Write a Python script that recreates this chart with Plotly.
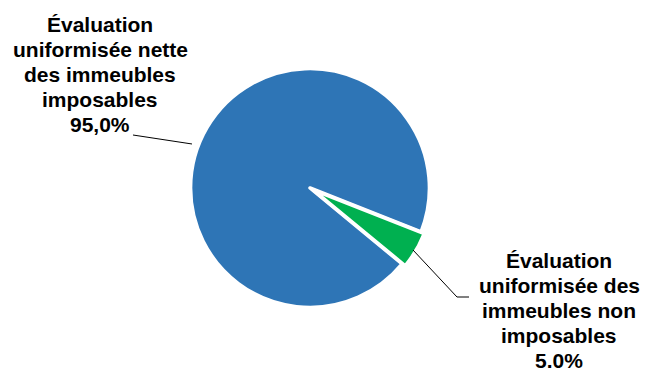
import plotly.graph_objects as go

labels = ["Évaluation uniformisée nette des immeubles imposables",
          "Évaluation uniformisée des immeubles non imposables"]
values = [95.0, 5.0]
colors = ["#2E75B6", "#00B050"]
pulls = [0, 0.03]

label_lines = [
    ["Évaluation", "uniformisée nette", "des immeubles", "imposables", "95,0%"],
    ["Évaluation", "uniformisée des", "immeubles non", "imposables", "5.0%"],
]
W, H = 646, 368

cx, cy, half = 310, 188, 123
fig = go.Figure(go.Pie(
    labels=labels, values=values, sort=False, direction="clockwise",
    rotation=129.5, pull=pulls, textinfo="none", hoverinfo="label+percent",
    marker=dict(colors=colors, line=dict(color="white", width=3.5)),
    domain=dict(x=[(cx - half) / W, (cx + half) / W],
                y=[1 - (cy + half) / H, 1 - (cy - half) / H]),
    showlegend=False,
))

# label blocks: (center x px, first baseline px)
blocks = [(100, 32), (559, 268)]
spacing = 25
ann = []
for (bx, by), lines in zip(blocks, label_lines):
    for i, t in enumerate(lines):
        yb = by + i * spacing
        ann.append(dict(text=f"<b>{t}</b>", x=bx / W, y=1 - (yb - 7.5) / H,
                        xref="paper", yref="paper", xanchor="center", yanchor="middle",
                        showarrow=False,
                        font=dict(family="Liberation Sans, Arial", size=21, color="#000000")))

def P(x, y):
    return f"{x / W:.5f},{1 - y / H:.5f}"

shapes = [
    dict(type="path", xref="paper", yref="paper",
         path=f"M {P(133,135)} L {P(192,144)}",
         line=dict(color="black", width=1)),
    dict(type="path", xref="paper", yref="paper",
         path=f"M {P(413,250)} L {P(457,297)} L {P(469,297)}",
         line=dict(color="black", width=1)),
]

fig.update_layout(width=W, height=H, margin=dict(l=0, r=0, t=0, b=0),
                  paper_bgcolor="white", plot_bgcolor="white",
                  annotations=ann, shapes=shapes)
fig.write_html("out.html", config={"displayModeBar": False},
               post_script="document.body.style.margin='0';document.body.style.overflow='hidden';")
